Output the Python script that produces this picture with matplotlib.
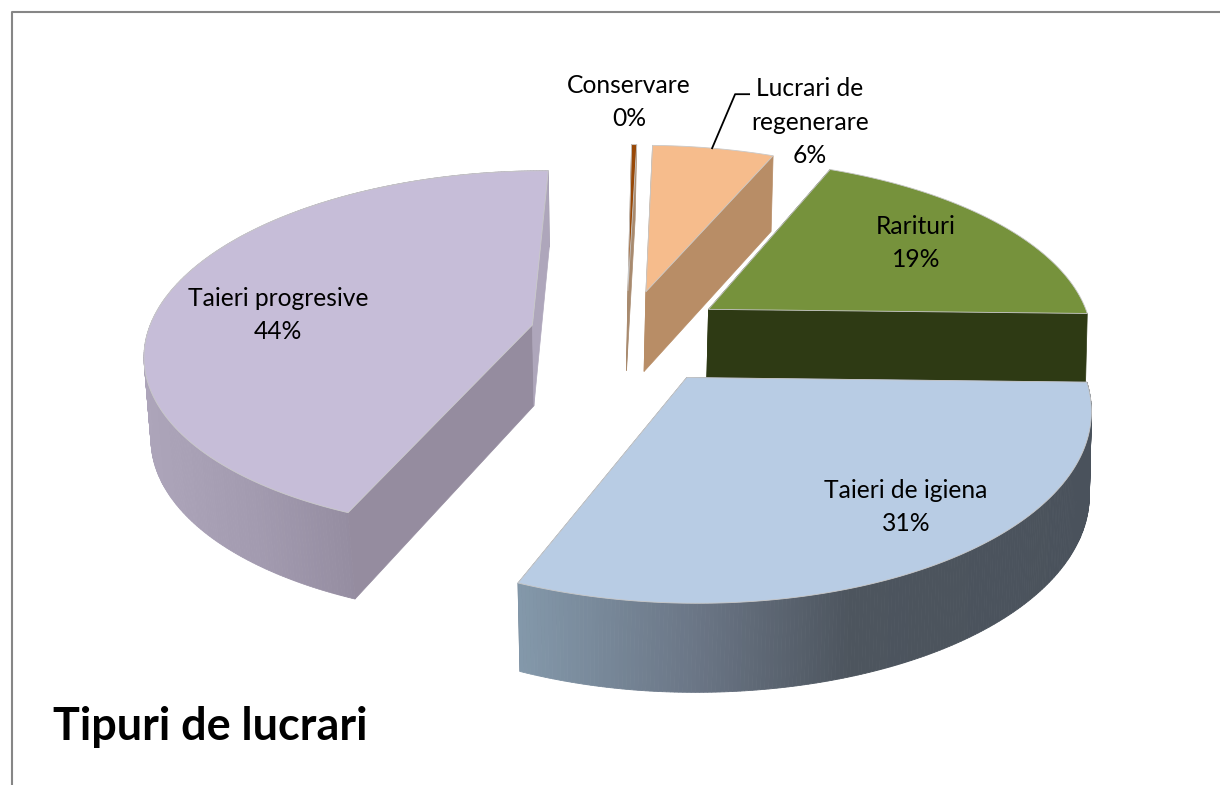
import matplotlib
matplotlib.use("Agg")
import matplotlib.pyplot as plt
from matplotlib.patches import Polygon
import numpy as np

plt.rcParams['font.family'] = ['Lato', 'DejaVu Sans']

# clockwise from 12 o'clock, same order as the chart
categories = ["Conservare", "Lucrari de\nregenerare", "Rarituri", "Taieri de igiena", "Taieri progresive"]
values = [0.25, 6, 19, 31, 44]
explode = [0.25, 0.25, 0.26, 0.28, 0.25]

top_colors = ["#984807", "#F6BC8C", "#76923C", "#B8CCE4", "#C6BDD8"]
cut_colors = ["#A88A6E", "#B88D66", "#2E3A14", "#6A7585", "#958C9F"]
sliver_color = "#AEA6BB"
wall_stops_x = {3: [515, 700, 850, 1090], 4: [140, 250, 355]}
wall_stops_c = {3: ["#8499AB", "#6A7585", "#4D555E", "#4A525C"],
                4: ["#ADA5BA", "#A39BB0", "#948CA0"]}

label_pos = [(629, 102), (810, 122), (916, 243), (906, 507), (278, 315)]
title = "Tipuri de lucrari"

# projection of the pie plane to the picture
CX, CY = 626, 334
RX, RY = 385, 179
K = 0.145
ROTATION = 0.7


def project(u, v):
    s = 1 / (1 + K * v)
    return CX + RX * u * s, CY - RY * v * s


def lower(x, y):
    # same point on the bottom of the 3d slab
    return x + np.interp(x, [348, 650], [7, -2]), y + 81 + 0.03 * (y - CY)


def slice_points(a0, a1, e):
    mid = np.radians((a0 + a1) / 2 + ROTATION)
    du, dv = e * np.sin(mid), e * np.cos(mid)
    t = np.radians(np.linspace(a0, a1, max(int(a1 - a0) * 2, 6)) + ROTATION)
    ax_, ay_ = project(du, dv)
    x, y = project(du + np.sin(t), dv + np.cos(t))
    return (ax_, ay_), x, y


def hex_rgb(c):
    return np.array(matplotlib.colors.to_rgb(c))


def wall_color(i, x):
    rgb = [hex_rgb(c) for c in wall_stops_c[i]]
    return [np.interp(x, wall_stops_x[i], [c[j] for c in rgb]) for j in range(3)]


def draw_slice(ax, i, a0, a1, e):
    apex, x, y = slice_points(a0, a1, e)
    xb, yb = lower(x, y)
    axb, ayb = lower(*apex)

    # outer wall, only the two front slices show it
    if i in wall_stops_x:
        for j in range(len(x) - 1):
            c = wall_color(i, (x[j] + x[j + 1]) / 2)
            ax.add_patch(Polygon([(x[j], y[j]), (x[j + 1], y[j + 1]), (xb[j + 1], yb[j + 1]), (xb[j], yb[j])],
                                 fc=c, ec=c, lw=0.6, zorder=i + 2))

    # cut faces, the ones of the front slice stay behind its wall
    z = i + 1.8 if i == 3 else i + 2.2
    c = cut_colors[i]
    ax.add_patch(Polygon([apex, (x[0], y[0]), (xb[0], yb[0]), (axb, ayb)],
                         fc=c, ec=c, lw=0.5, zorder=z))
    c = sliver_color if i == 4 else cut_colors[i]
    ax.add_patch(Polygon([apex, (x[-1], y[-1]), (xb[-1], yb[-1]), (axb, ayb)],
                         fc=c, ec=c, lw=0.5, zorder=z))

    top = [apex] + list(zip(x, y))
    ax.add_patch(Polygon(top, fc=top_colors[i], ec='#C9C9C9', lw=0.6, zorder=i + 2.5))


def main():
    fig = plt.figure(figsize=(12.2, 7.85), dpi=100)
    ax = fig.add_axes([0, 0, 1, 1])
    ax.set_xlim(0, 1220)
    ax.set_ylim(785, 0)
    ax.axis('off')

    # frame of the chart, cut by the right and bottom of the picture
    ax.plot([12, 12, 1220], [785, 12, 12], color='#868686', lw=1.5)

    shares = np.array(values) / sum(values)
    edges = np.concatenate([[0], np.cumsum(shares) * 360])

    for i in [4, 0, 1, 2, 3]:
        draw_slice(ax, i, edges[i], edges[i + 1], explode[i])

    for i in range(len(values)):
        txt = categories[i] + "\n" + str(int(round(shares[i] * 100))) + "%"
        ax.text(label_pos[i][0], label_pos[i][1], txt, ha='center', va='center',
                fontsize=17.7, linespacing=1.55, color='black', zorder=20)

    # leader line of the small slice
    _, x, y = slice_points(edges[1], edges[2], explode[1])
    k = int(len(x) * 0.48)
    ax.plot([x[k], x[k] + 23, x[k] + 37], [y[k], y[k] - 54, y[k] - 54], color='black', lw=1.3, zorder=20)

    ax.text(53, 740, title, fontsize=32.4, fontweight='bold', ha='left', va='baseline', color='black')

    fig.savefig("out.png", dpi=100)


if __name__ == "__main__":
    main()
